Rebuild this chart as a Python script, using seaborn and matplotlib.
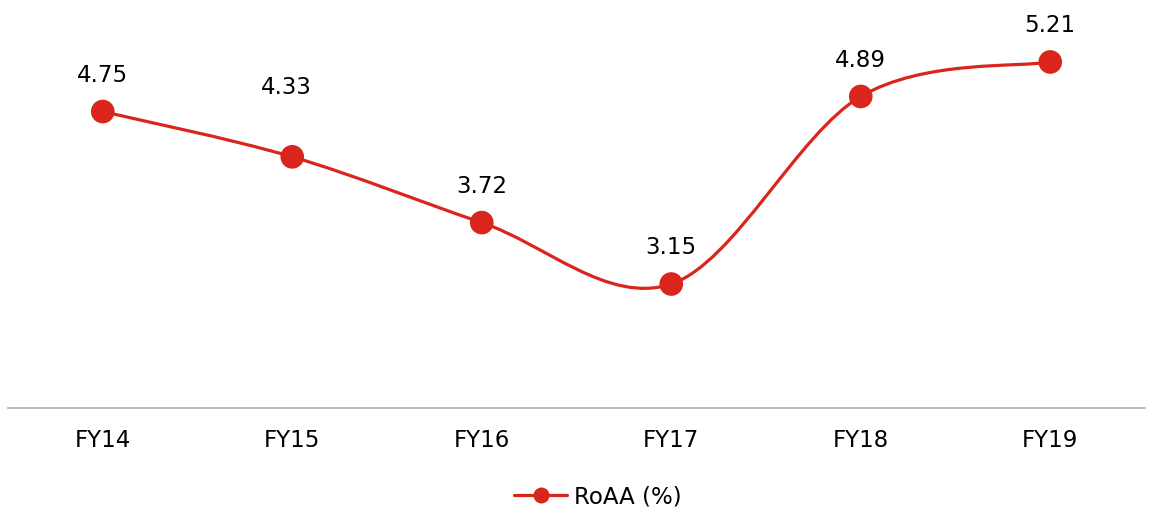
import numpy as np
import pandas as pd
import matplotlib
matplotlib.use("Agg")
import matplotlib.pyplot as plt
import seaborn as sns
from matplotlib.path import Path
from matplotlib.patches import PathPatch
from matplotlib.lines import Line2D

# Return on average assets by fiscal year
years = ["FY14", "FY15", "FY16", "FY17", "FY18", "FY19"]
roaa = [4.75, 4.33, 3.72, 3.15, 4.89, 5.21]
series_name = "RoAA (%)"

RED = "#DA251D"
FONT_SIZE = 16.5
TEXT = "#000000"

sns.set_theme(style="white")
plt.rcParams["font.family"] = ["DejaVu Sans"]

df = pd.DataFrame({"year": years, "roaa": roaa})
df["pos"] = np.arange(len(df))

fig = plt.figure(figsize=(11.53, 5.19), dpi=100)
ax = fig.add_axes([8 / 1153, 111 / 519, 1137 / 1153, 408 / 519])

# Smoothed line: cubic Bezier segments with Catmull-Rom style tangents
pts = df[["pos", "roaa"]].to_numpy(dtype=float)
ext = np.vstack([pts[0], pts, pts[-1]])
verts = [tuple(pts[0])]
codes = [Path.MOVETO]
for i in range(len(pts) - 1):
    p0, p1, p2, p3 = ext[i], ext[i + 1], ext[i + 2], ext[i + 3]
    c1 = p1 + (p2 - p0) / 6
    c2 = p2 - (p3 - p1) / 6
    verts += [tuple(c1), tuple(c2), tuple(p2)]
    codes += [Path.CURVE4] * 3
ax.add_patch(PathPatch(Path(verts, codes), facecolor="none", edgecolor=RED,
                       lw=2.3, capstyle="round", zorder=2))

sns.scatterplot(data=df, x="pos", y="roaa", ax=ax, color=RED, s=290,
                edgecolor="none", zorder=3, legend=False)

# Value labels above each point (FY15 label sits a little higher)
label_shift = {1: (-4.3, 24.0)}
for i, (x, v) in enumerate(zip(df["pos"], df["roaa"])):
    dx, dy = label_shift.get(i, (0.0, 0.0))
    ax.annotate(f"{v:.2f}", (x, v), xytext=(dx, 26 + dy),
                textcoords="offset points", ha="center", va="center",
                fontsize=FONT_SIZE, color=TEXT)

ax.set_xlim(-0.5, len(years) - 0.5)
ax.set_ylim(2.0, 2.0 + 408 / 107.8)
ax.set_xticks(df["pos"], years)
ax.set_yticks([])
ax.set_xlabel("")
ax.set_ylabel("")
ax.tick_params(axis="x", length=0, pad=15, labelsize=FONT_SIZE, labelcolor=TEXT)
for side in ("top", "left", "right"):
    ax.spines[side].set_visible(False)
ax.spines["bottom"].set_color("#ABABAB")
ax.spines["bottom"].set_linewidth(1.2)

handle = Line2D([], [], color=RED, lw=2.3, marker="o", markersize=11.5,
                markeredgewidth=0)
fig.legend([handle], [series_name], loc="center",
           bbox_to_anchor=(598 / 1153, 1 - 497 / 519), frameon=False,
           fontsize=FONT_SIZE, handlelength=2.3, handletextpad=0.3,
           labelcolor=TEXT)

fig.savefig("out.png", dpi=100)
